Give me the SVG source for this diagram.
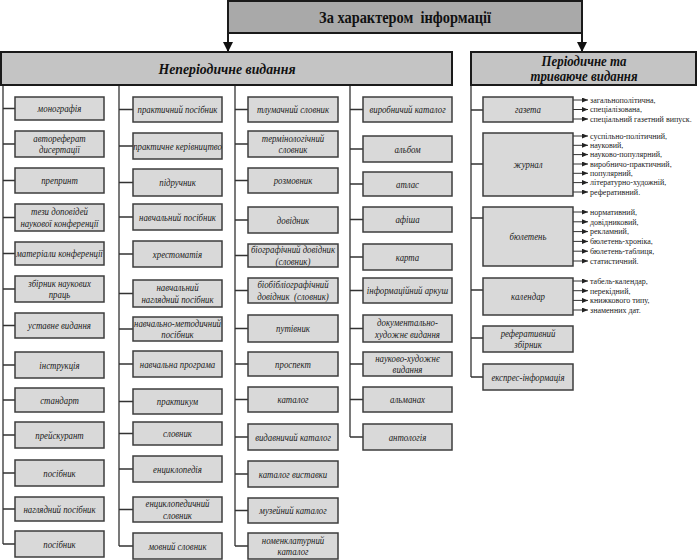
<svg xmlns="http://www.w3.org/2000/svg" width="697" height="560" viewBox="0 0 697 560">
<defs>
<style>
.box{fill:#d9d9d9;stroke:#3c3c3c;stroke-width:1.5}
.hdr{fill:#c4c4c4;stroke:#1a1a1a;stroke-width:2}
.top{fill:#a9a9a9;stroke:#1a1a1a;stroke-width:2}
.t{font-family:"Liberation Serif","Times New Roman","DejaVu Serif",serif;font-style:italic;font-size:11px;text-anchor:middle;fill:#1a1a1a}
.h{font-family:"Liberation Serif","Times New Roman","DejaVu Serif",serif;font-style:italic;font-weight:bold;font-size:15px;text-anchor:middle;fill:#111}
.tt{font-family:"Liberation Serif","Times New Roman","DejaVu Serif",serif;font-weight:bold;font-size:16px;text-anchor:middle;fill:#111}
.l{font-family:"Liberation Serif","Times New Roman","DejaVu Serif",serif;font-size:8px;fill:#222}
.c{stroke:#333;stroke-width:1.3;fill:none}
.a{stroke:#333;stroke-width:1;fill:none;marker-end:url(#ah)}
.big{stroke:#1a1a1a;stroke-width:2;fill:none;marker-end:url(#bh)}
</style>
<marker id="ah" markerUnits="userSpaceOnUse" markerWidth="6" markerHeight="5" refX="6" refY="2.5" orient="auto"><path d="M0,0 L6,2.5 L0,5 Z" fill="#222"/></marker>
<marker id="bh" markerUnits="userSpaceOnUse" markerWidth="10" markerHeight="10" refX="10" refY="5" orient="auto"><path d="M0,0 L10,5 L0,10 Z" fill="#111"/></marker>
</defs>

<g id="connectors">
<line class="big" x1="228" y1="33" x2="228" y2="52"/>
<line class="big" x1="582" y1="33" x2="582" y2="52"/>
<path class="c" d="M3,86 V544 M3,108.5 H15 M3,144 H15 M3,180.5 H15 M3,217.5 H15 M3,253.5 H15 M3,289 H15 M3,325.5 H15 M3,365 H15 M3,400 H15 M3,435 H15 M3,473 H15 M3,509 H15 M3,544 H15"/>
<path class="c" d="M119,86 V546 M119,109.5 H133 M119,146 H133 M119,182.5 H133 M119,217 H133 M119,254 H133 M119,293.5 H133 M119,329 H133 M119,364 H133 M119,401.5 H133 M119,433.5 H133 M119,469 H133 M119,509.5 H133 M119,546 H133"/>
<path class="c" d="M235,86 V546 M235,109.5 H248 M235,144 H248 M235,180.5 H248 M235,220 H248 M235,255.5 H248 M235,290.5 H248 M235,328.5 H248 M235,364 H248 M235,399.5 H248 M235,437 H248 M235,474 H248 M235,510.5 H248 M235,546 H248"/>
<path class="c" d="M350,86 V437 M350,109.5 H363 M350,149 H363 M350,184 H363 M350,219.5 H363 M350,257 H363 M350,290.5 H363 M350,328.5 H363 M350,364 H363 M350,399.5 H363 M350,437 H363"/>
<path class="c" d="M471,86 V377 M471,110 H483 M471,164 H483 M471,218 H483 M471,290 H483 M471,338 H483 M471,377 H483"/>
<line class="a" x1="573" y1="100" x2="588" y2="100"/>
<line class="a" x1="573" y1="109.5" x2="588" y2="109.5"/>
<line class="a" x1="573" y1="119" x2="588" y2="119"/>
<line class="a" x1="573" y1="136" x2="588" y2="136"/>
<line class="a" x1="573" y1="145.3" x2="588" y2="145.3"/>
<line class="a" x1="573" y1="154.6" x2="588" y2="154.6"/>
<line class="a" x1="573" y1="164" x2="588" y2="164"/>
<line class="a" x1="573" y1="173.3" x2="588" y2="173.3"/>
<line class="a" x1="573" y1="182.6" x2="588" y2="182.6"/>
<line class="a" x1="573" y1="192" x2="588" y2="192"/>
<line class="a" x1="573" y1="212" x2="588" y2="212"/>
<line class="a" x1="573" y1="221.8" x2="588" y2="221.8"/>
<line class="a" x1="573" y1="231.6" x2="588" y2="231.6"/>
<line class="a" x1="573" y1="241.4" x2="588" y2="241.4"/>
<line class="a" x1="573" y1="251.2" x2="588" y2="251.2"/>
<line class="a" x1="573" y1="261" x2="588" y2="261"/>
<line class="a" x1="573" y1="281" x2="588" y2="281"/>
<line class="a" x1="573" y1="290.7" x2="588" y2="290.7"/>
<line class="a" x1="573" y1="300.4" x2="588" y2="300.4"/>
<line class="a" x1="573" y1="310" x2="588" y2="310"/>
</g>

<g id="root"><rect class="top" x="228" y="1" width="354" height="32"/><text class="tt" xml:space="preserve" transform="translate(405,23) scale(0.9 1)">За характером  інформації</text></g>
<g id="nonperiodic"><rect class="hdr" x="1" y="52" width="451" height="33"/><text class="h" transform="translate(227,74) scale(0.92 1)">Неперіодичне видання</text></g>
<g id="periodic"><rect class="hdr" x="471" y="52" width="225" height="33"/><text class="h" transform="translate(584,66) scale(0.92 1)" style="font-size:14px"><tspan x="0">Періодичне та</tspan><tspan x="0" dy="15">триваюче видання</tspan></text></g>

<!-- column 1 -->
<g id="c1n1"><rect class="box" x="15" y="97" width="89" height="23"/><text class="t" transform="translate(59.5,112) scale(0.8 1)">монографія</text></g>
<g id="c1n2"><rect class="box" x="15" y="131" width="89" height="26"/><text class="t" transform="translate(59.5,141.5) scale(0.8 1)"><tspan x="0">автореферат</tspan><tspan x="0" dy="12">дисертації</tspan></text></g>
<g id="c1n3"><rect class="box" x="15" y="168" width="89" height="25"/><text class="t" transform="translate(59.5,184) scale(0.8 1)">препринт</text></g>
<g id="c1n4"><rect class="box" x="15" y="204" width="89" height="27"/><text class="t" transform="translate(59.5,215) scale(0.8 1)"><tspan x="0">тези доповідей</tspan><tspan x="0" dy="12">наукової конференції</tspan></text></g>
<g id="c1n5"><rect class="box" x="15" y="242" width="89" height="23"/><text class="t" transform="translate(59.5,257) scale(0.8 1)">матеріали конференції</text></g>
<g id="c1n6"><rect class="box" x="15" y="276" width="89" height="26"/><text class="t" transform="translate(59.5,286.5) scale(0.8 1)"><tspan x="0">збірник наукових</tspan><tspan x="0" dy="12">праць</tspan></text></g>
<g id="c1n7"><rect class="box" x="15" y="313" width="89" height="25"/><text class="t" transform="translate(59.5,329) scale(0.8 1)">уставне видання</text></g>
<g id="c1n8"><rect class="box" x="15" y="352" width="89" height="26"/><text class="t" transform="translate(59.5,368.5) scale(0.8 1)">інструкція</text></g>
<g id="c1n9"><rect class="box" x="15" y="388" width="89" height="24"/><text class="t" transform="translate(59.5,403.5) scale(0.8 1)">стандарт</text></g>
<g id="c1n10"><rect class="box" x="15" y="422" width="89" height="26"/><text class="t" transform="translate(59.5,438.5) scale(0.8 1)">прейскурант</text></g>
<g id="c1n11"><rect class="box" x="15" y="460" width="89" height="26"/><text class="t" transform="translate(59.5,476.5) scale(0.8 1)">посібник</text></g>
<g id="c1n12"><rect class="box" x="15" y="497" width="89" height="24"/><text class="t" transform="translate(59.5,512.5) scale(0.8 1)">наглядний посібник</text></g>
<g id="c1n13"><rect class="box" x="15" y="531" width="89" height="26"/><text class="t" transform="translate(59.5,547.5) scale(0.8 1)">посібник</text></g>

<!-- column 2 -->
<g id="c2n1"><rect class="box" x="133" y="97" width="89" height="25"/><text class="t" transform="translate(177.5,113) scale(0.8 1)">практичний посібник</text></g>
<g id="c2n2"><rect class="box" x="133" y="133" width="89" height="26"/><text class="t" transform="translate(177.5,149.5) scale(0.8 1)">практичне керівництво</text></g>
<g id="c2n3"><rect class="box" x="133" y="169" width="89" height="27"/><text class="t" transform="translate(177.5,186) scale(0.8 1)">підручник</text></g>
<g id="c2n4"><rect class="box" x="133" y="204" width="89" height="26"/><text class="t" transform="translate(177.5,220.5) scale(0.8 1)">навчальний посібник</text></g>
<g id="c2n5"><rect class="box" x="133" y="241" width="89" height="26"/><text class="t" transform="translate(177.5,257.5) scale(0.8 1)">хрестоматія</text></g>
<g id="c2n6"><rect class="box" x="133" y="280" width="89" height="27"/><text class="t" transform="translate(177.5,291) scale(0.8 1)"><tspan x="0">навчальний</tspan><tspan x="0" dy="12">наглядний посібник</tspan></text></g>
<g id="c2n7"><rect class="box" x="133" y="317" width="89" height="24"/><text class="t" transform="translate(177.5,326.5) scale(0.8 1)"><tspan x="0">навчально-методичний</tspan><tspan x="0" dy="12">посібник</tspan></text></g>
<g id="c2n8"><rect class="box" x="133" y="351" width="89" height="26"/><text class="t" transform="translate(177.5,367.5) scale(0.8 1)">навчальна програма</text></g>
<g id="c2n9"><rect class="box" x="133" y="389" width="89" height="25"/><text class="t" transform="translate(177.5,405) scale(0.8 1)">практикум</text></g>
<g id="c2n10"><rect class="box" x="133" y="422" width="89" height="23"/><text class="t" transform="translate(177.5,437) scale(0.8 1)">словник</text></g>
<g id="c2n11"><rect class="box" x="133" y="456" width="89" height="26"/><text class="t" transform="translate(177.5,472.5) scale(0.8 1)">енциклопедія</text></g>
<g id="c2n12"><rect class="box" x="133" y="497" width="89" height="25"/><text class="t" transform="translate(177.5,507) scale(0.8 1)"><tspan x="0">енциклопедичний</tspan><tspan x="0" dy="12">словник</tspan></text></g>
<g id="c2n13"><rect class="box" x="133" y="533" width="89" height="26"/><text class="t" transform="translate(177.5,549.5) scale(0.8 1)">мовний словник</text></g>

<!-- column 3 -->
<g id="c3n1"><rect class="box" x="248" y="97" width="90" height="25"/><text class="t" transform="translate(293,113) scale(0.8 1)">тлумачний словник</text></g>
<g id="c3n2"><rect class="box" x="248" y="131" width="90" height="26"/><text class="t" transform="translate(293,141.5) scale(0.8 1)"><tspan x="0">термінологічний</tspan><tspan x="0" dy="12">словник</tspan></text></g>
<g id="c3n3"><rect class="box" x="248" y="168" width="90" height="25"/><text class="t" transform="translate(293,184) scale(0.8 1)">розмовник</text></g>
<g id="c3n4"><rect class="box" x="248" y="207" width="90" height="26"/><text class="t" transform="translate(293,223.5) scale(0.8 1)">довідник</text></g>
<g id="c3n5"><rect class="box" x="248" y="244" width="90" height="23"/><text class="t" transform="translate(293,253) scale(0.8 1)"><tspan x="0">біографічний довідник</tspan><tspan x="0" dy="12">(словник)</tspan></text></g>
<g id="c3n6"><rect class="box" x="248" y="278" width="90" height="25"/><text class="t" xml:space="preserve" transform="translate(293,288) scale(0.8 1)"><tspan x="0">біобібліографічний</tspan><tspan x="0" dy="12">довідник  (словник)</tspan></text></g>
<g id="c3n7"><rect class="box" x="248" y="315" width="90" height="27"/><text class="t" transform="translate(293,332) scale(0.8 1)">путівник</text></g>
<g id="c3n8"><rect class="box" x="248" y="352" width="90" height="24"/><text class="t" transform="translate(293,367.5) scale(0.8 1)">проспект</text></g>
<g id="c3n9"><rect class="box" x="248" y="387" width="90" height="25"/><text class="t" transform="translate(293,403) scale(0.8 1)">каталог</text></g>
<g id="c3n10"><rect class="box" x="248" y="424" width="90" height="26"/><text class="t" transform="translate(293,440.5) scale(0.8 1)">видавничий каталог</text></g>
<g id="c3n11"><rect class="box" x="248" y="461" width="90" height="26"/><text class="t" transform="translate(293,477.5) scale(0.8 1)">каталог виставки</text></g>
<g id="c3n12"><rect class="box" x="248" y="498" width="90" height="25"/><text class="t" transform="translate(293,514) scale(0.8 1)">музейний каталог</text></g>
<g id="c3n13"><rect class="box" x="248" y="533" width="90" height="26"/><text class="t" transform="translate(293,543.5) scale(0.8 1)"><tspan x="0">номенклатурний</tspan><tspan x="0" dy="12">каталог</tspan></text></g>

<!-- column 4 -->
<g id="c4n1"><rect class="box" x="363" y="97" width="89" height="25"/><text class="t" transform="translate(407.5,113) scale(0.8 1)">виробничий каталог</text></g>
<g id="c4n2"><rect class="box" x="363" y="136" width="89" height="26"/><text class="t" transform="translate(407.5,152.5) scale(0.8 1)">альбом</text></g>
<g id="c4n3"><rect class="box" x="363" y="172" width="89" height="24"/><text class="t" transform="translate(407.5,187.5) scale(0.8 1)">атлас</text></g>
<g id="c4n4"><rect class="box" x="363" y="207" width="89" height="25"/><text class="t" transform="translate(407.5,223) scale(0.8 1)">афіша</text></g>
<g id="c4n5"><rect class="box" x="363" y="244" width="89" height="26"/><text class="t" transform="translate(407.5,260.5) scale(0.8 1)">карта</text></g>
<g id="c4n6"><rect class="box" x="363" y="278" width="89" height="25"/><text class="t" transform="translate(407.5,294) scale(0.8 1)">інформаційний аркуш</text></g>
<g id="c4n7"><rect class="box" x="363" y="315" width="89" height="27"/><text class="t" transform="translate(407.5,326) scale(0.8 1)"><tspan x="0">документально-</tspan><tspan x="0" dy="12">художнє видання</tspan></text></g>
<g id="c4n8"><rect class="box" x="363" y="352" width="89" height="24"/><text class="t" transform="translate(407.5,361.5) scale(0.8 1)"><tspan x="0">науково-художнє</tspan><tspan x="0" dy="12">видання</tspan></text></g>
<g id="c4n9"><rect class="box" x="363" y="387" width="89" height="25"/><text class="t" transform="translate(407.5,403) scale(0.8 1)">альманах</text></g>
<g id="c4n10"><rect class="box" x="363" y="424" width="89" height="26"/><text class="t" transform="translate(407.5,440.5) scale(0.8 1)">антологія</text></g>

<!-- periodic -->
<g id="p1"><rect class="box" x="483" y="97" width="90" height="25"/><text class="t" transform="translate(528,113) scale(0.8 1)">газета</text>
<text class="l" x="590" y="102.8">загальнополітична,</text><text class="l" x="590" y="112.3">спеціалізована,</text><text class="l" x="590" y="121.8">спеціальний газетний випуск.</text></g>
<g id="p2"><rect class="box" x="483" y="133" width="90" height="63"/><text class="t" transform="translate(528,168) scale(0.8 1)">журнал</text>
<text class="l" x="590" y="138.8">суспільно-політичний,</text><text class="l" x="590" y="148.1">науковий,</text><text class="l" x="590" y="157.4">науково-популярний,</text><text class="l" x="590" y="166.8">виробничо-практичний,</text><text class="l" x="590" y="176.1">популярний,</text><text class="l" x="590" y="185.4">літературно-художній,</text><text class="l" x="590" y="194.8">реферативний.</text></g>
<g id="p3"><rect class="box" x="483" y="207" width="90" height="59"/><text class="t" transform="translate(528,240) scale(0.8 1)">бюлетень</text>
<text class="l" x="590" y="214.8">нормативний,</text><text class="l" x="590" y="224.6">довідниковий,</text><text class="l" x="590" y="234.4">рекламний,</text><text class="l" x="590" y="244.2">бюлетень-хроніка,</text><text class="l" x="590" y="254">бюлетень-таблиця,</text><text class="l" x="590" y="263.8">статистичний.</text></g>
<g id="p4"><rect class="box" x="483" y="278" width="90" height="37"/><text class="t" transform="translate(528,300) scale(0.8 1)">календар</text>
<text class="l" x="590" y="283.8">табель-календар,</text><text class="l" x="590" y="293.5">перекідний,</text><text class="l" x="590" y="303.2">книжкового типу,</text><text class="l" x="590" y="312.8">знаменних дат.</text></g>
<g id="p5"><rect class="box" x="483" y="326" width="90" height="26"/><text class="t" transform="translate(528,336.5) scale(0.8 1)"><tspan x="0">реферативний</tspan><tspan x="0" dy="12">збірник</tspan></text></g>
<g id="p6"><rect class="box" x="483" y="364" width="90" height="26"/><text class="t" transform="translate(528,380.5) scale(0.8 1)">експрес-інформація</text></g>
</svg>
